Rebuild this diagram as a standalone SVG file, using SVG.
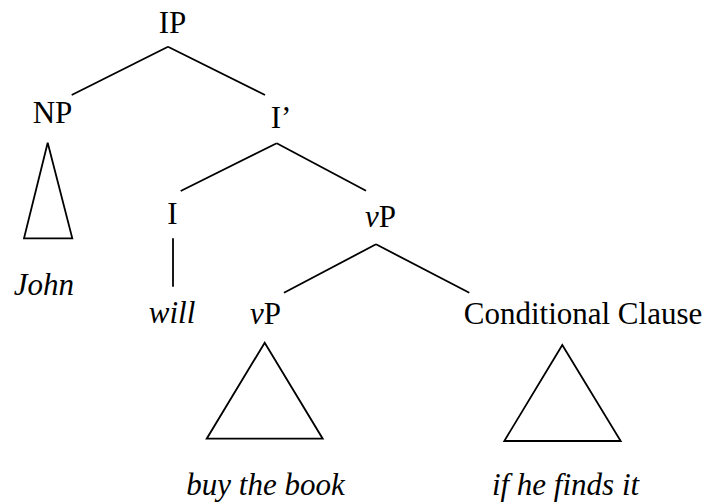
<svg xmlns="http://www.w3.org/2000/svg" width="723" height="503" viewBox="0 0 723 503">
<style>
text{font-family:"Liberation Serif","Times New Roman",serif;font-size:31px;fill:#000;text-anchor:middle}
.it{font-style:italic}
line,polygon{stroke:#000;stroke-width:1.8;fill:none}
</style>
<rect width="723" height="503" fill="#fff"/>
<g id="connectors">
<line x1="168" y1="46.7" x2="71.7" y2="95"/>
<line x1="168" y1="46.7" x2="265" y2="95"/>
<line x1="276.7" y1="143.3" x2="180.7" y2="191"/>
<line x1="276.7" y1="143.3" x2="366" y2="190.7"/>
<line x1="173" y1="238.3" x2="173" y2="286.7"/>
<line x1="376" y1="244.3" x2="284" y2="292.7"/>
<line x1="376" y1="244.3" x2="469.3" y2="292.7"/>
</g>
<g id="IP"><text x="172.5" y="33">IP</text></g>
<g id="NP"><text x="52.5" y="123">NP</text>
<polygon points="47.7,142.7 24,238.3 72.3,238.3"/></g>
<g id="John"><text class="it" x="44" y="295">John</text></g>
<g id="Ibar"><text x="281" y="128">I’</text></g>
<g id="I"><text x="172.5" y="224">I</text></g>
<g id="will"><text class="it" x="172" y="323">will</text></g>
<g id="vP1"><text x="380.5" y="227"><tspan class="it">v</tspan>P</text></g>
<g id="vP2"><text x="265.5" y="324"><tspan class="it">v</tspan>P</text>
<polygon points="264.7,342.7 206.7,438.7 322.7,438.7"/></g>
<g id="buy"><text class="it" x="265.5" y="495">buy the book</text></g>
<g id="CC"><text x="583" y="324">Conditional Clause</text>
<polygon points="562.3,345 504.3,441 620.7,441"/></g>
<g id="if"><text class="it" x="565.5" y="495">if he finds it</text></g>
</svg>
